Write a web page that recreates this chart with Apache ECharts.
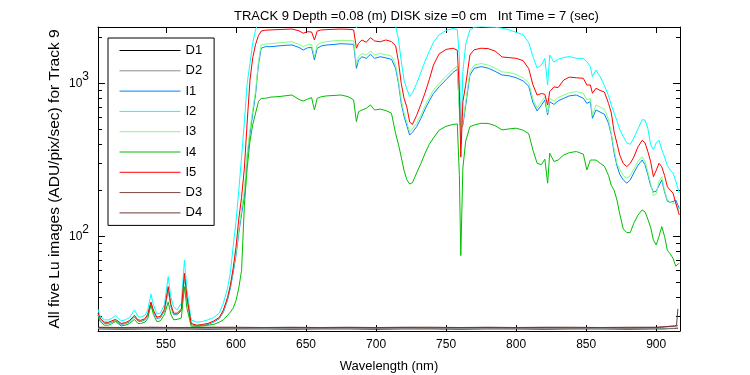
<!DOCTYPE html>
<html>
<head>
<meta charset="utf-8">
<script src="https://cdn.jsdelivr.net/npm/echarts@6/dist/echarts.min.js"></script>
<style>
  html, body { margin: 0; padding: 0; background: #fff; }
  #chart { width: 750px; height: 375px; }
</style>
</head>
<body>
<div id="chart"></div>
<script>
// wavelengths (nm) shared by the five light spectra
const wavelengths = [
  501.5, 503, 506, 509, 511, 514, 518, 521, 524, 527.5,
  530, 532, 535, 537, 539.3, 541, 543.5, 546, 549, 551.6,
  553.5, 555.5, 558, 561, 563.2, 565, 568, 572, 576, 580,
  584, 588, 591, 594, 596, 598, 600, 602, 604, 606,
  608, 610, 612, 614, 616, 618, 621, 625, 630, 635,
  640, 645, 648, 651, 654, 656, 658, 661, 665, 670,
  675, 680, 684, 686, 687.5, 690, 693, 696, 699, 703,
  707, 711, 714, 716, 718, 720, 722, 724, 726, 729,
  732, 735, 738, 741, 745, 750, 755, 758, 759.5, 760.5,
  762, 764, 767, 770, 775, 780, 785, 790, 795, 800,
  805, 809, 812, 815, 818, 820.5, 822.5, 824, 827, 830,
  834, 838, 843, 848, 850.5, 853, 854.5, 857, 860, 863,
  866, 868, 870, 872, 874, 876.5, 879, 881.5, 884, 887,
  890, 892, 894, 896, 898, 900, 902, 904, 906, 908,
  910, 912, 914, 916.5
];

const i1 = [
  30.5, 28.6, 27, 27, 27.5, 28.2, 26.6, 26.9, 27.7, 29.8,
  28, 27.8, 28.5, 30.3, 36, 32.2, 29.1, 29.4, 32.6, 45,
  35, 30.8, 30.8, 32.7, 55, 39, 26.6, 26, 26.2, 26.6,
  27.5, 29, 32, 38.5, 46, 58, 75, 105, 140, 185,
  330, 470, 640, 850, 1320, 1700, 1740, 1740, 1760, 1775,
  1785, 1720, 1655, 1710, 1720, 1424, 1699, 1760, 1785, 1800,
  1820, 1810, 1803, 1256, 1424, 1496, 1460, 1552, 1460, 1496,
  1470, 1440, 1256, 1003, 740, 610, 530, 460, 480, 522,
  590, 680, 770, 860, 950, 1060, 1180, 1238, 700, 500,
  535, 720, 1136, 1256, 1288, 1260, 1200, 1136, 1123, 1090,
  1040, 960, 750, 661, 720, 780, 622, 760, 730, 770,
  800, 830, 841, 800, 742, 760, 592, 671, 650, 630,
  549, 460, 350, 290, 255, 234, 223, 234, 260, 292,
  316, 295, 255, 215, 195, 198, 215, 234, 195, 170,
  167, 169, 173, 152
];

const i2 = [
  33.5, 30, 28.5, 28.5, 29, 30.5, 28.1, 28.5, 29.5, 33.1,
  30, 29.7, 30.5, 33, 42, 36, 31.2, 31.5, 36, 54.6,
  40, 34.7, 33.1, 36.6, 70, 45, 28.5, 27.5, 27.8, 28.5,
  29.5, 31.5, 36.6, 46, 58, 86, 125, 200, 330, 560,
  1000, 1350, 1850, 2250, 2500, 2650, 2750, 2800, 2800, 2800,
  2800, 2750, 2700, 2750, 2750, 2450, 2750, 2800, 2800, 2800,
  2800, 2800, 2750, 2300, 2450, 2500, 2500, 2550, 2500, 2500,
  2500, 2450, 2350, 1950, 1400, 1050, 920, 820, 870, 1000,
  1180, 1400, 1620, 1860, 2080, 2220, 2290, 2250, 1500, 400,
  1195, 1800, 2240, 2330, 2350, 2340, 2330, 2300, 2240, 2160,
  2080, 1850, 1500, 1260, 1320, 1460, 977, 1535, 1380, 1440,
  1480, 1500, 1460, 1460, 1390, 1288, 1108, 1225, 1108, 970,
  830, 720, 640, 570, 500, 450, 410, 400, 440, 505,
  580, 577, 510, 400, 370, 410, 425, 370, 330, 290,
  272, 260, 230, 192
];

const i3 = [
  31, 29, 27.3, 27.3, 27.8, 28.5, 26.8, 27.1, 28, 30.2,
  28.3, 28.1, 28.8, 30.7, 36.6, 32.6, 29.4, 29.7, 33, 46,
  35.5, 31.2, 31.2, 33.2, 56, 39.5, 26.8, 26.2, 26.4, 26.9,
  27.8, 29.4, 32.5, 39.5, 47.5, 60, 78, 110, 150, 200,
  350, 500, 680, 900, 1380, 1785, 1810, 1820, 1840, 1860,
  1875, 1800, 1740, 1790, 1800, 1500, 1790, 1850, 1880, 1900,
  1915, 1910, 1900, 1330, 1500, 1570, 1530, 1630, 1540, 1570,
  1545, 1510, 1320, 1050, 780, 640, 560, 480, 505, 550,
  620, 715, 810, 905, 1000, 1115, 1240, 1300, 650, 480,
  560, 760, 1190, 1320, 1350, 1320, 1260, 1190, 1180, 1145,
  1090, 1010, 790, 690, 760, 820, 640, 800, 765, 810,
  840, 870, 885, 863, 780, 800, 620, 724, 700, 680,
  580, 472, 370, 300, 275, 250, 240, 250, 275, 310,
  332, 310, 265, 223, 185, 190, 230, 246, 200, 173,
  168, 165, 165, 146
];

const i4 = [
  29.9, 27.8, 26.3, 26.3, 26.8, 27.8, 26, 26.3, 27, 28.7,
  27, 27, 27.5, 29, 35.9, 31, 27.8, 28, 31, 37.3,
  31, 28.5, 28.7, 29.3, 47, 34, 25.9, 25.9, 26, 26.3,
  26.6, 27.5, 28.5, 30.5, 32, 34, 38, 46, 60, 160,
  280, 420, 540, 640, 760, 800, 800, 815, 820, 830,
  841, 785, 768, 790, 808, 671, 800, 820, 830, 835,
  841, 820, 780, 563, 654, 671, 688, 724, 671, 680,
  665, 640, 470, 400, 330, 270, 235, 220, 225, 260,
  300, 350, 400, 440, 495, 525, 540, 544, 250, 75,
  280, 420, 522, 535, 549, 548, 530, 497, 505, 510,
  495, 470, 367, 301, 295, 320, 223, 350, 309, 316,
  341, 353, 359, 345, 272, 316, 316, 316, 301, 288,
  250, 215, 200, 173, 140, 112, 106, 106, 122, 138,
  149, 145, 130, 115, 95, 88, 100, 116, 100, 81,
  77, 72, 64, 67
];

const i5 = [
  31.5, 29.3, 27.5, 27.5, 28, 28.7, 27, 27.3, 28.2, 30.5,
  28.5, 28.3, 29, 31, 37.3, 33, 29.7, 30, 33.5, 47,
  36, 31.5, 31.5, 33.5, 57.4, 40, 27, 26.3, 26.6, 27,
  28, 29.5, 33, 40, 48, 62, 85, 130, 180, 280,
  560, 1050, 1480, 1800, 2050, 2200, 2230, 2240, 2250, 2260,
  2270, 2210, 2130, 2180, 2170, 1925, 2200, 2240, 2250, 2260,
  2270, 2260, 2240, 1700, 1830, 1925, 1858, 1994, 1896, 1875,
  1925, 1880, 1760, 1390, 1000, 800, 700, 560, 540, 620,
  730, 870, 1060, 1320, 1560, 1670, 1700, 1650, 900, 330,
  760, 980, 1535, 1660, 1700, 1690, 1630, 1490, 1476, 1460,
  1410, 1250, 980, 840, 860, 850, 724, 885, 950, 940,
  1054, 1100, 1090, 1081, 977, 977, 863, 930, 900, 880,
  740, 640, 480, 406, 340, 300, 286, 301, 330, 385,
  425, 410, 360, 310, 246, 270, 301, 285, 250, 211,
  201, 192, 165, 138
];

// dark frames sit on the floor of the plot
const darkWavelengths = [
  501.5, 520, 540, 560, 580, 600, 620, 640, 660, 680,
  700, 720, 740, 760, 780, 800, 820, 840, 860, 880,
  900, 906, 910, 913, 914.5, 915.5
];
const d1 = [
  24.9, 24.8, 24.9, 24.9, 24.8, 24.9, 24.9, 24.8, 24.9, 24.9,
  24.8, 24.9, 24.9, 24.8, 24.9, 24.9, 24.8, 24.9, 24.9, 24.8,
  24.9, 24.9, 25, 25, 25.1, 25.1
];
const d2 = [
  25, 25.1, 25, 25, 25.1, 25, 25, 25.1, 25, 25,
  25.1, 25, 25, 25.1, 25, 25, 25.1, 25, 25, 25.1,
  25, 25, 25.1, 25.1, 25.2, 25.2
];
const d3 = [
  25.4, 25.3, 25.4, 25.3, 25.4, 25.3, 25.4, 25.4, 25.3, 25.4,
  25.3, 25.4, 25.3, 25.4, 25.4, 25.3, 25.4, 25.3, 25.4, 25.3,
  25.4, 25.6, 25.8, 25.9, 26, 26.1
];
const d4 = [
  25.5, 25.4, 25.5, 25.4, 25.5, 25.5, 25.4, 25.5, 25.4, 25.5,
  25.4, 25.5, 25.5, 25.4, 25.5, 25.4, 25.5, 25.5, 25.4, 25.5,
  25.5, 25.7, 25.9, 26, 26.2, 33.6
];

const xTicks = [550, 600, 650, 700, 750, 800, 850, 900];
const yMajorTicks = [100, 1000];
const yMinorTicks = [30, 40, 50, 60, 70, 80, 90, 200, 300, 400, 500, 600, 700, 800, 900, 2000];

const FONT = '"Liberation Sans", Arial, Helvetica, sans-serif';
const X_MIN = 501.5, X_MAX = 917;
const Y_MIN = 24.1, Y_MAX = 2340;

const chart = echarts.init(document.getElementById('chart'));

const toPoints = (xs, ys) => xs.map((x, i) => [x, ys[i]]);

function spectrum(name, color, xs, ys) {
  return {
    name,
    type: 'line',
    data: toPoints(xs, ys),
    symbol: 'none',
    clip: true,
    lineStyle: { color, width: 1 },
    itemStyle: { color },
    emphasis: { disabled: true },
  };
}

function xAxisBase(position) {
  return {
    type: 'value',
    position,
    min: X_MIN,
    max: X_MAX,
    axisLine: { onZero: false, lineStyle: { color: '#000', width: 1 } },
    axisTick: { inside: true, length: 6, customValues: xTicks, lineStyle: { color: '#000' } },
    axisLabel: { show: false },
    splitLine: { show: false },
  };
}

function yAxisBase(position, ticks, length, showLine) {
  return {
    type: 'log',
    position,
    min: Y_MIN,
    max: Y_MAX,
    axisLine: { show: showLine, onZero: false, lineStyle: { color: '#000', width: 1 } },
    axisTick: { inside: true, length, customValues: ticks, lineStyle: { color: '#000' } },
    axisLabel: { show: false },
    splitLine: { show: false },
  };
}

const bottomAxis = xAxisBase('bottom');
bottomAxis.name = 'Wavelength (nm)';
bottomAxis.nameLocation = 'middle';
bottomAxis.nameGap = 29;
bottomAxis.nameMoveOverlap = false;
bottomAxis.nameTextStyle = { color: '#000', fontSize: 13, fontFamily: FONT };
bottomAxis.axisLabel = { show: true, customValues: xTicks, color: '#000', fontSize: 12, fontFamily: FONT, margin: 8 };

const leftAxis = yAxisBase('left', yMajorTicks, 7, true);
leftAxis.name = 'All five Lu images (ADU/pix/sec) for Track 9';
leftAxis.nameLocation = 'middle';
leftAxis.nameGap = 35;
leftAxis.nameMoveOverlap = false;
leftAxis.nameTextStyle = { color: '#000', fontSize: 15.5, fontFamily: FONT };
leftAxis.axisLabel = {
  show: true,
  customValues: yMajorTicks,
  margin: 9,
  formatter: (v) => '{base|10}{exp|' + Math.round(Math.log10(v)) + '}',
  rich: {
    base: { color: '#000', fontSize: 12, fontFamily: FONT },
    exp: { color: '#000', fontSize: 12, fontFamily: FONT, padding: [0, 0, 14, 0] },
  },
};

chart.setOption({
  animation: false,
  backgroundColor: '#fff',
  title: {
    text: 'TRACK 9 Depth =0.08 (m) DISK size =0 cm   Int Time = 7 (sec)',
    left: 229,
    top: 5,
    textStyle: { color: '#000', fontSize: 13, fontWeight: 'normal', fontFamily: FONT },
  },
  grid: { left: 98, right: 70, top: 27, bottom: 44, outerBoundsMode: 'none' },
  legend: {
    orient: 'vertical',
    left: 108,
    top: 38,
    padding: [6, 12, 6, 11],
    itemWidth: 61,
    itemHeight: 12,
    itemGap: 7.3,
    itemStyle: { opacity: 0 },
    lineStyle: { width: 1 },
    borderColor: '#000',
    borderWidth: 1,
    backgroundColor: '#fff',
    textStyle: { color: '#000', fontSize: 13, fontFamily: FONT },
    data: ['D1', 'D2', 'I1', 'I2', 'I3', 'I4', 'I5', 'D3', 'D4'],
  },
  xAxis: [bottomAxis, xAxisBase('top')],
  yAxis: [
    leftAxis,
    yAxisBase('left', yMinorTicks, 4, false),
    yAxisBase('right', yMajorTicks, 7, true),
    yAxisBase('right', yMinorTicks, 4, false),
  ],
  series: [
    spectrum('D1', '#000000', darkWavelengths, d1),
    spectrum('D2', '#8c8c8c', darkWavelengths, d2),
    spectrum('I1', '#0080ff', wavelengths, i1),
    spectrum('I2', '#00ffff', wavelengths, i2),
    spectrum('I3', '#80ff80', wavelengths, i3),
    spectrum('I4', '#00bf00', wavelengths, i4),
    spectrum('I5', '#ff0000', wavelengths, i5),
    spectrum('D3', '#804040', darkWavelengths, d3),
    spectrum('D4', '#703838', darkWavelengths, d4),
  ],
});
</script>
</body>
</html>
